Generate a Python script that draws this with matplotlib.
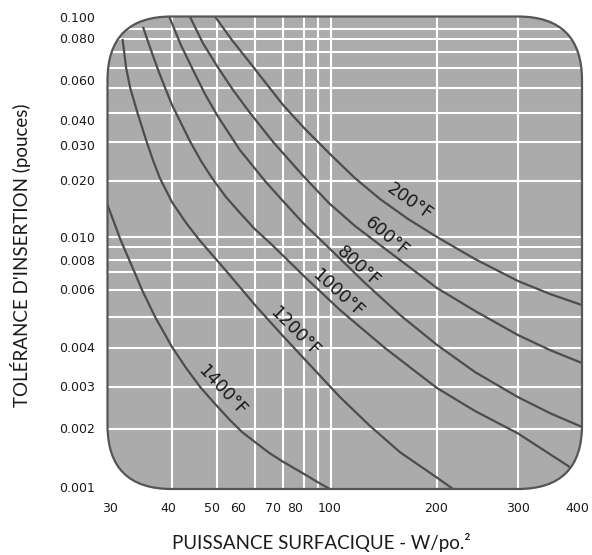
import numpy as np
import matplotlib
matplotlib.use('Agg')
import matplotlib.pyplot as plt
from matplotlib.patches import FancyBboxPatch

# grid values of the chart and where they sit on the drawing (pixels, hand-drawn scale)
x_grid = [30, 40, 50, 60, 70, 80, 90, 100, 200, 300, 400]
x_grid_px = [107.5, 172, 217, 255, 283, 304, 318, 331, 437, 518, 582]
y_grid = [0.001, 0.002, 0.003, 0.004, 0.005, 0.006, 0.007, 0.008, 0.009,
          0.01, 0.02, 0.03, 0.04, 0.05, 0.06, 0.07, 0.08, 0.09, 0.1]
y_grid_px = [489, 429, 387, 348, 317, 290, 272, 260, 247,
             237, 181, 142, 113, 88, 68, 52, 39, 29, 16.5]

x_ticks = [30, 40, 50, 60, 70, 80, 100, 200, 300, 400]
y_ticks = [0.1, 0.08, 0.06, 0.04, 0.03, 0.02, 0.01, 0.008, 0.006, 0.004, 0.003, 0.002, 0.001]

# curves: watt density (W/po.²) vs insertion tolerance (in)
w_200 = [49.5, 53.7, 58.6, 63.4, 70, 80, 100, 117, 137.8, 165.5, 200, 241.9, 300, 346.4, 400]
t_200 = [0.1, 0.0792, 0.063, 0.0528, 0.043, 0.0345, 0.0262, 0.0206, 0.016, 0.0125, 0.01,
         0.00807, 0.00648, 0.00584, 0.00542]

w_600 = [43.7, 46.6, 50, 54.0, 58.6, 66.3, 80, 98.4, 117, 137.8, 165.5, 200, 241.9, 300,
         346.4, 400]
t_600 = [0.1, 0.0768, 0.0612, 0.0491, 0.04, 0.03, 0.0209, 0.0152, 0.01146, 0.00919, 0.00748,
         0.0061, 0.00521, 0.00439, 0.00394, 0.00358]

w_800 = [39.5, 41.8, 44.4, 47.1, 50, 55.8, 63.4, 70, 80, 98.4, 124.9, 157, 200, 241.9, 300,
         346.4, 400]
t_800 = [0.1, 0.0752, 0.0589, 0.0474, 0.0392, 0.0276, 0.02, 0.0156, 0.01175, 0.00892,
         0.00637, 0.00507, 0.00409, 0.00335, 0.00272, 0.00233, 0.00204]

w_1000 = [35.2, 36.3, 37.6, 38.8, 40, 43.7, 46.2, 48.8, 52.2, 55.8, 60, 65.2, 80.7, 106.1,
          142.3, 200, 241.9, 300, 382]
t_1000 = [0.0908, 0.0729, 0.0589, 0.05, 0.043, 0.0303, 0.0246, 0.0206, 0.0164, 0.0135, 0.011,
          0.00939, 0.0067, 0.00524, 0.004, 0.00297, 0.00238, 0.0019, 0.00127]

w_1200 = [32.1, 32.6, 33.2, 34.3, 35.7, 36.8, 37.9, 40, 42.9, 46, 52.7, 60, 70, 84.1, 106.1,
          129, 157, 200, 216.7]
t_1200 = [0.0792, 0.06, 0.05, 0.04, 0.0302, 0.0246, 0.0206, 0.0154, 0.0119, 0.00959, 0.00694,
          0.00542, 0.00436, 0.00353, 0.00272, 0.00206, 0.00153, 0.00114, 0.001]

w_1400 = [30, 31.8, 33.7, 35.0, 37.1, 40, 42.9, 46, 49.5, 53.2, 56.4, 60, 64.8, 70, 80, 90, 99]
t_1400 = [0.0149, 0.0097, 0.00716, 0.006, 0.005, 0.00403, 0.00345, 0.003, 0.00255, 0.00218,
          0.00193, 0.00172, 0.00152, 0.00137, 0.00119, 0.00108, 0.001]

curve_names = ['200°F', '600°F', '800°F', '1000°F', '1200°F', '1400°F']
curve_w = [w_200, w_600, w_800, w_1000, w_1200, w_1400]
curve_t = [t_200, t_600, t_800, t_1000, t_1200, t_1400]
label_w = [167.6, 144.2, 119.3, 104.7, 75.5, 51.2]
label_t = [0.0154, 0.01, 0.0074, 0.00588, 0.00449, 0.00291]
label_rot = [-35, -40, -42, -42, -45, -47]


def knot_scale(vals, px):
    lv = np.log10(vals)
    px = np.asarray(px, float)
    fr = (px - px[0]) / (px[-1] - px[0])
    s0 = (fr[1] - fr[0]) / (lv[1] - lv[0])
    s1 = (fr[-1] - fr[-2]) / (lv[-1] - lv[-2])

    def fwd(v):
        l = np.log10(np.maximum(np.asarray(v, float), 1e-12))
        out = np.interp(l, lv, fr)
        out = np.where(l < lv[0], fr[0] + (l - lv[0]) * s0, out)
        out = np.where(l > lv[-1], fr[-1] + (l - lv[-1]) * s1, out)
        return out

    def inv(f):
        f = np.asarray(f, float)
        out = np.interp(f, fr, lv)
        out = np.where(f < fr[0], lv[0] + (f - fr[0]) / s0, out)
        out = np.where(f > fr[-1], lv[-1] + (f - fr[-1]) / s1, out)
        return 10 ** out

    return fwd, inv


W, H = 592, 555
fig = plt.figure(figsize=(W / 100, H / 100), dpi=100)
ax = fig.add_axes([107.5 / W, 1 - 489 / H, 474.5 / W, 472.5 / H])
ax.set_xscale('function', functions=knot_scale(x_grid, x_grid_px))
ax.set_yscale('function', functions=knot_scale(y_grid, y_grid_px))
ax.set_xlim(30, 400)
ax.set_ylim(0.001, 0.1)
ax.set_axis_off()

box = 'round,pad=0,rounding_size=0.135'
bg = FancyBboxPatch((0, 0), 1, 1, boxstyle=box, transform=ax.transAxes,
                    facecolor='#ababab', edgecolor='none', zorder=1, clip_on=False)
ax.add_patch(bg)

for v in x_grid[1:-1]:
    ln = ax.axvline(v, color='white', lw=1.5, zorder=2)
    ln.set_clip_path(bg)
for v in y_grid[1:-1]:
    ln = ax.axhline(v, color='white', lw=1.5, zorder=2)
    ln.set_clip_path(bg)

for w, t in zip(curve_w, curve_t):
    ln, = ax.plot(w, t, color='#4d4d4d', lw=1.6, zorder=3, solid_joinstyle='round')
    ln.set_clip_path(bg)

for name, lw_, lt, rot in zip(curve_names, label_w, label_t, label_rot):
    ax.text(lw_, lt, name, rotation=rot, rotation_mode='anchor', ha='center',
            va='center', fontsize=12.5, color='#1a1a1a', zorder=4)

edge = FancyBboxPatch((0, 0), 1, 1, boxstyle=box, transform=ax.transAxes,
                      facecolor='none', edgecolor='#555555', lw=1.6, zorder=5, clip_on=False)
ax.add_patch(edge)

# tick labels, nudged like the original artwork
x_nudge = [1.8, -2.9, -3.6, -12.2, -7.2, -6.5, -0.7, -0.7, 0, -3.6]
for v, dx in zip(x_ticks, x_nudge):
    ax.annotate(str(v), xy=(v, 0), xycoords=('data', 'axes fraction'),
                xytext=(dx, -14.4), textcoords='offset points',
                ha='center', va='center', fontsize=9, color='#1a1a1a')

y_nudge = [1.8, 0.7, 9.4, 5.8, 2.9, 0.5, 1.4, 1.4, 0.5, 0.7, 0.2, 0.7, 0]
for v, dy in zip(y_ticks, y_nudge):
    ax.annotate('%.3f' % v, xy=(0, v), xycoords=('axes fraction', 'data'),
                xytext=(-9, -dy), textcoords='offset points',
                ha='right', va='center', fontsize=9, color='#1a1a1a')

fig.text(321 / W, 1 - 543 / H, 'PUISSANCE SURFACIQUE - W/po.²', ha='center', va='center',
         fontsize=13.5, family='Lato', color='#1a1a1a')
fig.text(21 / W, 1 - 255 / H, "TOLÉRANCE D'INSERTION (pouces)", ha='center', va='center',
         rotation=90, fontsize=13.5, family='Lato', color='#1a1a1a')

fig.savefig('out.png', dpi=100)
